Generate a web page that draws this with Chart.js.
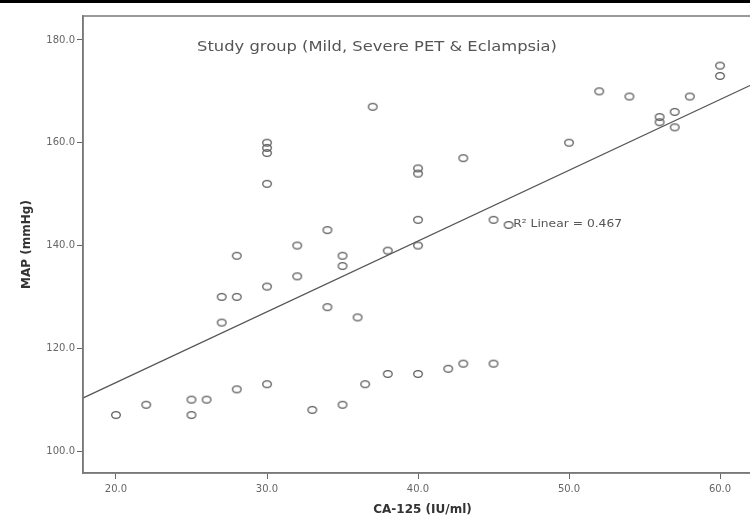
<!DOCTYPE html>
<html>
<head>
<meta charset="utf-8">
<script src="https://cdn.jsdelivr.net/npm/chart.js@4/dist/chart.umd.min.js"></script>
<style>
  html, body { margin: 0; padding: 0; background: #fff; overflow: hidden; }
  #topbar { position: absolute; left: 0; top: 0; width: 750px; height: 3px; background: #000; z-index: 2; }
  #wrap { position: absolute; left: 0; top: 0; width: 770px; height: 517px; }
</style>
</head>
<body>
<div id="topbar"></div>
<div id="wrap"><canvas id="scatter" width="770" height="517"></canvas></div>
<script>
// CA-125 (IU/ml) vs MAP (mmHg)
const ca125 = [20, 22, 25, 25, 26, 27, 27, 28, 28, 28,
               30, 30, 30, 30, 30, 30, 32, 32, 33, 34,
               34, 35, 35, 35, 36, 36.5, 37, 38, 38, 40,
               40, 40, 40, 40, 42, 43, 43, 45, 45, 46,
               50, 52, 54, 56, 56, 57, 57, 58, 60, 60];
const map = [107, 109, 110, 107, 110, 130, 125, 138, 130, 112,
             160, 159, 158, 152, 132, 113, 140, 134, 108, 143,
             128, 138, 136, 109, 126, 113, 167, 139, 115, 155,
             154, 145, 140, 115, 116, 157, 117, 145, 117, 144,
             160, 170, 169, 165, 164, 166, 163, 169, 175, 173];
const xTicks = [20, 30, 40, 50, 60];
const yTicks = [100, 120, 140, 160, 180];
const r2 = 0.467;
const groupLabel = 'Study group (Mild, Severe PET & Eclampsia)';

const X_MIN = 17.815, X_MAX = 62.78;
const Y_MIN = 95.72, Y_MAX = 184.67;

// least squares fit line
const n = ca125.length;
const mx = ca125.reduce((a, b) => a + b, 0) / n;
const my = map.reduce((a, b) => a + b, 0) / n;
let sxy = 0, sxx = 0;
for (let i = 0; i < n; i++) {
  sxy += (ca125[i] - mx) * (map[i] - my);
  sxx += (ca125[i] - mx) ** 2;
}
const slope = sxy / sxx;
const icpt = my - slope * mx;
const fitLine = [X_MIN - 1, X_MAX + 1].map(x => ({ x: x, y: icpt + slope * x }));

const points = ca125.map((x, i) => ({ x: x, y: map[i] }));

// slightly flattened open circle, like the SPSS marker
const marker = document.createElement('canvas');
marker.width = 12; marker.height = 10;
(function () {
  const c = marker.getContext('2d');
  c.strokeStyle = '#5a5a5a';
  c.lineWidth = 1.3;
  c.beginPath();
  c.ellipse(6, 5, 4.3, 3.4, 0, 0, Math.PI * 2);
  c.stroke();
})();

const tickFont = { family: 'DejaVu Sans', size: 10 };

function stretchedText(ctx, text, x, y, sx) {
  ctx.save();
  ctx.translate(x, y);
  ctx.scale(sx, 1);
  ctx.fillText(text, 0, 0);
  ctx.restore();
}

const annotations = {
  id: 'annotations',
  afterDraw(chart) {
    const { ctx, chartArea: a, scales } = chart;
    ctx.save();
    // frame round the plot
    ctx.strokeStyle = '#7a7a7a';
    ctx.lineWidth = 1.5;
    ctx.strokeRect(a.left, a.top, a.right - a.left, a.bottom - a.top);
    // group label inside the plot
    ctx.fillStyle = '#555';
    ctx.font = '13.5px "DejaVu Sans"';
    ctx.textAlign = 'center';
    ctx.textBaseline = 'middle';
    stretchedText(ctx, groupLabel, 377, a.top + 31, 1.21);
    // R squared label next to the fit line
    ctx.font = '10px "DejaVu Sans"';
    ctx.textAlign = 'left';
    stretchedText(ctx, 'R\u00B2 Linear = ' + r2.toFixed(3),
      scales.x.getPixelForValue(46.3), scales.y.getPixelForValue(144.2), 1.23);
    ctx.restore();
  }
};

new Chart(document.getElementById('scatter').getContext('2d'), {
  type: 'scatter',
  data: {
    datasets: [
      {
        label: 'MAP',
        data: points,
        pointStyle: marker,
        pointRadius: 4,
      },
      {
        type: 'line',
        label: 'Fit',
        data: fitLine,
        borderColor: '#555',
        borderWidth: 1.2,
        pointRadius: 0,
        fill: false,
      }
    ]
  },
  options: {
    responsive: false,
    animation: false,
    events: [],
    layout: { padding: { top: 16, right: 8, left: 0, bottom: 0 } },
    plugins: {
      legend: { display: false },
      tooltip: { enabled: false }
    },
    scales: {
      x: {
        type: 'linear',
        min: X_MIN,
        max: X_MAX,
        afterBuildTicks: axis => { axis.ticks = xTicks.map(v => ({ value: v })); },
        afterFit: axis => { axis.height = 44; },
        ticks: { color: '#666', font: tickFont, padding: 4, callback: v => v.toFixed(1) },
        grid: { drawOnChartArea: false, drawTicks: true, tickLength: 6, color: '#666' },
        border: { display: true, color: '#7a7a7a', width: 1.5 },
        title: {
          display: true,
          text: 'CA-125 (IU/ml)',
          color: '#333',
          font: { family: 'DejaVu Sans', size: 12, weight: 'bold' },
          padding: { top: 0, bottom: 0 }
        }
      },
      y: {
        type: 'linear',
        min: Y_MIN,
        max: Y_MAX,
        afterBuildTicks: axis => { axis.ticks = yTicks.map(v => ({ value: v })); },
        afterFit: axis => { axis.width = 83; },
        ticks: { color: '#666', font: tickFont, padding: 2, callback: v => v.toFixed(1) },
        grid: { drawOnChartArea: false, drawTicks: true, tickLength: 6, color: '#666' },
        border: { display: true, color: '#7a7a7a', width: 1.5 },
        title: {
          display: true,
          text: 'MAP (mmHg)',
          color: '#333',
          font: { family: 'DejaVu Sans', size: 12, weight: 'bold' },
          padding: { top: 20, bottom: 0 }
        }
      }
    }
  },
  plugins: [annotations]
});
</script>
</body>
</html>
